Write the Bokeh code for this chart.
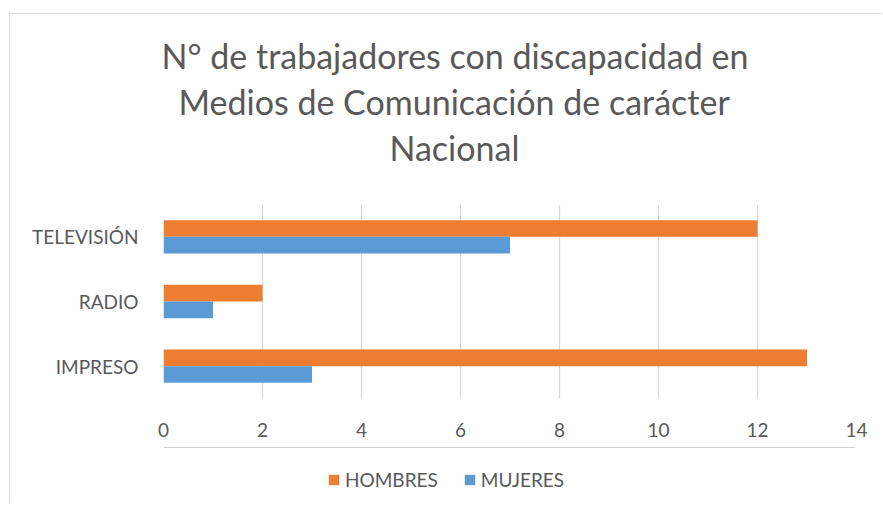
from bokeh.plotting import figure
from bokeh.layouts import column
from bokeh.models import ColumnDataSource, FactorRange, Range1d, FixedTicker, Legend, LegendItem, Title
from bokeh.transform import dodge
from bokeh.embed import file_html
from bokeh.resources import INLINE

categories = ["IMPRESO", "RADIO", "TELEVISIÓN"]
hombres = [13, 2, 12]
mujeres = [3, 1, 7]
series_names = ["HOMBRES", "MUJERES"]
x_ticks = [0, 2, 4, 6, 8, 10, 12, 14]
title_lines = ["N° de trabajadores con discapacidad  en",
               "Medios de Comunicación de carácter",
               "Nacional"]

FONT = "Lato"
TXT = "#595959"
ORANGE = "#ED7D31"
BLUE = "#5B9BD5"
GRID = "#D9D9D9"

src = ColumnDataSource(dict(cat=categories, h=hombres, m=mujeres))

p = figure(frame_width=692, frame_height=193, output_backend="svg", toolbar_location=None,
           y_range=FactorRange(factors=categories), x_range=Range1d(0, 14),
           min_border_left=153, min_border_right=27, min_border_top=190, min_border_bottom=50)
p.margin = (13, 0, 0, 9)
p.styles = {"border-top": "1px solid #D9D9D9", "border-left": "1px solid #D9D9D9"}
p.outline_line_color = None
p.background_fill_color = "white"
p.border_fill_color = "white"
p.title.visible = False

bh = 0.258
p.hbar(y=dodge("cat", bh / 2, range=p.y_range), right="h", left=0, height=bh,
       source=src, fill_color=ORANGE, line_color=None)
p.hbar(y=dodge("cat", -bh / 2, range=p.y_range), right="m", left=0, height=bh,
       source=src, fill_color=BLUE, line_color=None)

p.xaxis.ticker = FixedTicker(ticks=x_ticks)
for ax in (p.xaxis[0], p.yaxis[0]):
    ax.axis_line_color = None
    ax.major_tick_line_color = None
    ax.minor_tick_line_color = None
    ax.major_tick_in = 0
    ax.major_tick_out = 0
    ax.major_label_text_font = FONT
    ax.major_label_text_font_size = "19px"
    ax.major_label_text_color = TXT
p.xaxis.major_label_standoff = 24
p.yaxis.major_label_standoff = 25

p.xgrid.grid_line_color = GRID
p.xgrid.grid_line_width = 1.3
p.ygrid.grid_line_color = None

# spacer between plot area and title block
p.add_layout(Title(text=" ", text_font_size="1px", standoff=32), "above")
# title lines, nearest to plot first
offsets = [226, 15, -2]
for line, off in zip(reversed(title_lines), offsets):
    p.add_layout(Title(text=line, align="left", offset=off, standoff=3,
                       text_font=FONT, text_font_size="34px", text_color=TXT,
                       text_font_style="normal"), "above")

# legend strip (separate small figure so the legend is not clipped)
p2 = figure(width=872, height=56, output_backend="svg", toolbar_location=None,
            x_range=Range1d(0, 1), y_range=Range1d(0, 1),
            x_axis_location=None, y_axis_location=None,
            min_border_left=0, min_border_right=0, min_border_top=0, min_border_bottom=0)
p2.margin = (0, 0, 0, 9)
p2.styles = {"border-left": "1px solid #D9D9D9"}
p2.outline_line_color = None
p2.grid.visible = False
p2.title.visible = False
p2.border_fill_color = "white"
p2.background_fill_color = "white"
# swatch renderers: their bars lie outside the strip's visible range
lh = p2.hbar(y=[hombres[0] * 10], right=[hombres[0]], left=0, height=0.1,
             fill_color=ORANGE, line_color=None)
lm = p2.hbar(y=[mujeres[0] * 10], right=[mujeres[0]], left=0, height=0.1,
             fill_color=BLUE, line_color=None)

legend = Legend(items=[LegendItem(label=series_names[0], renderers=[lh]),
                       LegendItem(label=series_names[1], renderers=[lm])],
                orientation="horizontal", location=(164, 12),
                glyph_width=13, glyph_height=13, label_standoff=5, spacing=25,
                padding=0, margin=0, border_line_color=None, background_fill_alpha=0,
                label_text_font=FONT, label_text_font_size="19px", label_text_color=TXT,
                label_height=13)
p2.add_layout(legend, "center")

layout = column(p, p2, spacing=0)
open("out.html", "w").write(file_html(layout, INLINE))
